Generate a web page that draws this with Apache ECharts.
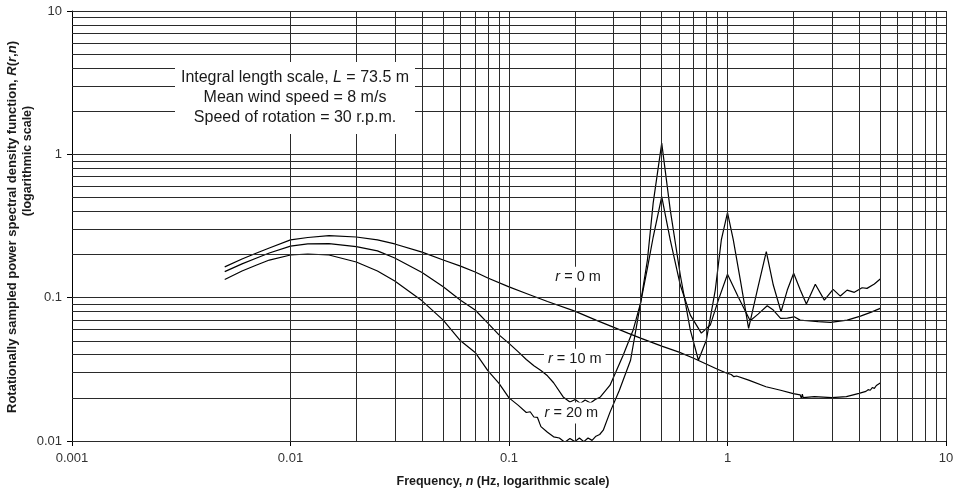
<!DOCTYPE html>
<html>
<head>
<meta charset="utf-8">
<script src="https://cdn.jsdelivr.net/npm/echarts@6/dist/echarts.min.js"></script>
<style>
html,body{margin:0;padding:0;background:#fff;}
#chart{width:960px;height:496px;}
</style>
</head>
<body>
<div id="chart"></div>
<script>
// ---- Data ----
const xTickLabels = ['0.001', '0.01', '0.1', '1', '10'];
const yTickLabels = ['0.01', '0.1', '1', '10'];

// r = 0 m
const freq0 = [0.005,0.006,0.007,0.008,0.01,0.012,0.015,0.02,0.025,0.03,0.04,0.05,0.06,0.07,0.08,0.1,0.12,0.15,0.2,0.25,0.3,0.35,0.4,0.5,0.6,0.7,0.9,1.0,1.04,1.05,1.06,1.07,1.08,1.1,1.25,1.5,1.75,2.0,2.15,2.18,2.2,2.22,2.25,2.5,3.0,3.5,4.0,4.3,4.4,4.5,4.6,4.7,4.8,4.9,5.0];
const val0  = [0.164,0.186,0.205,0.222,0.253,0.263,0.271,0.265,0.253,0.237,0.208,0.183,0.166,0.151,0.137,0.119,0.107,0.094,0.0806,0.0697,0.0623,0.0566,0.0522,0.0459,0.0417,0.0378,0.0317,0.0296,0.0291,0.0284,0.0293,0.0281,0.0289,0.0284,0.0266,0.0239,0.0226,0.0214,0.0210,0.0198,0.0212,0.0201,0.0207,0.0204,0.0201,0.0204,0.0215,0.0222,0.0228,0.0226,0.0236,0.0233,0.0244,0.0241,0.0254];

// r = 10 m
const freq10 = [0.005,0.006,0.007,0.008,0.01,0.012,0.015,0.02,0.025,0.03,0.04,0.05,0.06,0.07,0.08,0.09,0.1,0.11,0.12,0.13,0.14,0.15,0.16,0.177,0.19,0.201,0.212,0.223,0.236,0.248,0.262,0.29,0.333,0.37,0.4,0.43,0.457,0.5,0.547,0.608,0.676,0.759,0.834,0.908,1.0,1.12,1.27,1.38,1.52,1.62,1.75,1.88,2.02,2.15,2.31,2.6,2.96,3.53,4.06,4.55,5.0];
const val10  = [0.152,0.172,0.189,0.205,0.229,0.237,0.238,0.227,0.212,0.189,0.150,0.119,0.096,0.082,0.0665,0.055,0.048,0.042,0.037,0.0335,0.031,0.0285,0.0255,0.0203,0.0187,0.0195,0.0183,0.0193,0.0184,0.0195,0.0203,0.0245,0.0397,0.0594,0.0917,0.161,0.265,0.507,0.2527,0.1225,0.0756,0.0566,0.0644,0.0962,0.1455,0.101,0.069,0.0768,0.0878,0.0819,0.0717,0.0720,0.0735,0.0697,0.069,0.0681,0.0672,0.0697,0.0744,0.0793,0.0842];

// r = 20 m
const freq20 = [0.005,0.006,0.007,0.008,0.01,0.012,0.015,0.02,0.025,0.03,0.04,0.05,0.06,0.07,0.08,0.09,0.1,0.11,0.12,0.125,0.13,0.135,0.14,0.15,0.16,0.17,0.18,0.19,0.2,0.21,0.22,0.23,0.24,0.25,0.26,0.27,0.29,0.32,0.36,0.4,0.43,0.457,0.5,0.547,0.608,0.676,0.736,0.8,0.879,0.937,1.0,1.063,1.145,1.249,1.369,1.505,1.62,1.758,1.878,2.008,2.154,2.296,2.523,2.775,3.042,3.285,3.526,3.807,4.13,4.35,4.7,5.0];
const val20  = [0.134,0.1535,0.169,0.183,0.1985,0.2017,0.1985,0.1774,0.1535,0.1306,0.095,0.0697,0.050,0.0415,0.031,0.0252,0.020,0.0178,0.0158,0.0160,0.0147,0.0146,0.0126,0.0115,0.0107,0.0105,0.0098,0.0104,0.0099,0.0105,0.0099,0.0105,0.0101,0.0108,0.0111,0.0119,0.0159,0.0226,0.0366,0.0917,0.1831,0.4583,1.198,0.4095,0.1439,0.0594,0.0366,0.0505,0.113,0.2527,0.392,0.2527,0.1327,0.061,0.113,0.2094,0.1225,0.0797,0.113,0.1479,0.113,0.0902,0.1239,0.0962,0.1143,0.1026,0.1129,0.1089,0.1173,0.1161,0.1245,0.1349];

const curveLabels = [
  {text: '{i|r} = 0 m',  at: [0.207, 0.139]},
  {text: '{i|r} = 10 m', at: [0.2, 0.0372]},
  {text: '{i|r} = 20 m', at: [0.193, 0.0157]}
];
const infoLines = ['Integral length scale, {i|L} = 73.5 m', 'Mean wind speed = 8 m/s', 'Speed of rotation = 30 r.p.m.'];

// ---- Chart ----
const FONT = "'Liberation Sans', Arial, Helvetica, sans-serif";
const zip = (a, b) => a.map((v, i) => [v, b[i]]);

const gridX = [];
[0.001, 0.01, 0.1, 1].forEach(d => { for (let k = 1; k <= 9; k++) gridX.push(+(k * d).toPrecision(3)); });
gridX.push(10);
const gridY = [];
[0.01, 0.1, 1].forEach(d => { for (let k = 1; k <= 9; k++) gridY.push(+(k * d).toPrecision(3)); });
gridY.push(10);

const labelMap = {};
xTickLabels.forEach(s => labelMap[String(parseFloat(s))] = s);
yTickLabels.forEach(s => labelMap[String(parseFloat(s))] = s);
const fmt = v => { const k = String(parseFloat(Number(v).toPrecision(6))); return labelMap[k] !== undefined ? labelMap[k] : ''; };

const lineStyle = {color: '#000', width: 1.2};
const chart = echarts.init(document.getElementById('chart'), null, {renderer: 'canvas'});
chart.setOption({
  animation: false,
  backgroundColor: '#fff',
  grid: {left: 72, right: 14, top: 11, bottom: 55, containLabel: false},
  xAxis: {
    type: 'log', logBase: 10, min: 0.001, max: 10,
    axisLine: {show: true, lineStyle: {color: '#000', width: 1}},
    axisTick: {show: true, length: 5, lineStyle: {color: '#000'}},
    axisLabel: {formatter: fmt, color: '#333', fontSize: 13, fontFamily: FONT, margin: 11},
    splitLine: {show: false}
  },
  yAxis: {
    type: 'log', logBase: 10, min: 0.01, max: 10,
    axisLine: {show: true, lineStyle: {color: '#000', width: 1}},
    axisTick: {show: true, length: 5, lineStyle: {color: '#000'}},
    axisLabel: {formatter: fmt, color: '#333', fontSize: 13, fontFamily: FONT, margin: 10},
    splitLine: {show: false}
  },
  series: [
    {
      name: 'grid', type: 'line', data: [], silent: true, z: 1,
      markLine: {
        silent: true, symbol: ['none', 'none'], animation: false,
        label: {show: false},
        lineStyle: {color: '#2a2a2a', width: 1, type: 'solid'},
        emphasis: {disabled: true},
        data: gridX.map(v => ({xAxis: v})).concat(gridY.map(v => ({yAxis: v})))
      }
    },
    {name: 'r = 0 m', type: 'line', data: zip(freq0, val0), showSymbol: false, symbol: 'none', lineStyle, z: 3},
    {name: 'r = 10 m', type: 'line', data: zip(freq10, val10), showSymbol: false, symbol: 'none', lineStyle, z: 3},
    {name: 'r = 20 m', type: 'line', data: zip(freq20, val20), showSymbol: false, symbol: 'none', lineStyle, z: 3}
  ]
});

const rich = (size, weight) => ({i: {fontStyle: 'italic', fontSize: size, fontWeight: weight, fontFamily: FONT, fill: '#1a1a1a'}});
const graphics = [];

// parameter box
graphics.push({
  type: 'rect', z: 100, shape: {x: 175, y: 62, width: 240, height: 72},
  style: {fill: '#fff', stroke: null}
});
infoLines.forEach((t, i) => {
  graphics.push({
    type: 'text', z: 101, x: 295, y: 78 + i * 20,
    style: {text: t, fontSize: 16, fontFamily: FONT, fill: '#1a1a1a', align: 'center', verticalAlign: 'middle', rich: rich(16, 'normal')}
  });
});

// curve labels with white boxes
curveLabels.forEach(l => {
  const p = chart.convertToPixel({gridIndex: 0}, l.at);
  graphics.push({
    type: 'text', z: 100, x: p[0], y: p[1],
    style: {text: l.text, fontSize: 14.5, fontFamily: FONT, fill: '#1a1a1a', align: 'center', verticalAlign: 'middle',
            backgroundColor: '#fff', padding: [3, 4, 3, 4], rich: rich(14.5, 'normal')}
  });
});

// axis titles
graphics.push({
  type: 'text', z: 100, x: 503, y: 482,
  style: {text: 'Frequency, {i|n} (Hz, logarithmic scale)', fontSize: 12.5, fontWeight: 'bold', fontFamily: FONT, fill: '#1a1a1a',
          align: 'center', verticalAlign: 'middle', rich: rich(12.5, 'bold')}
});
graphics.push({
  type: 'text', z: 100, x: 12, y: 227, rotation: Math.PI / 2,
  style: {text: 'Rotationally sampled power spectral density function, {i|R}({i|r},{i|n})', fontSize: 13, fontWeight: 'bold', fontFamily: FONT, fill: '#1a1a1a',
          align: 'center', verticalAlign: 'middle', rich: rich(13, 'bold')}
});
graphics.push({
  type: 'text', z: 100, x: 28, y: 161, rotation: Math.PI / 2,
  style: {text: '(logarithmic scale)', fontSize: 12.5, fontWeight: 'bold', fontFamily: FONT, fill: '#1a1a1a',
          align: 'center', verticalAlign: 'middle'}
});

chart.setOption({graphic: graphics});
</script>
</body>
</html>
